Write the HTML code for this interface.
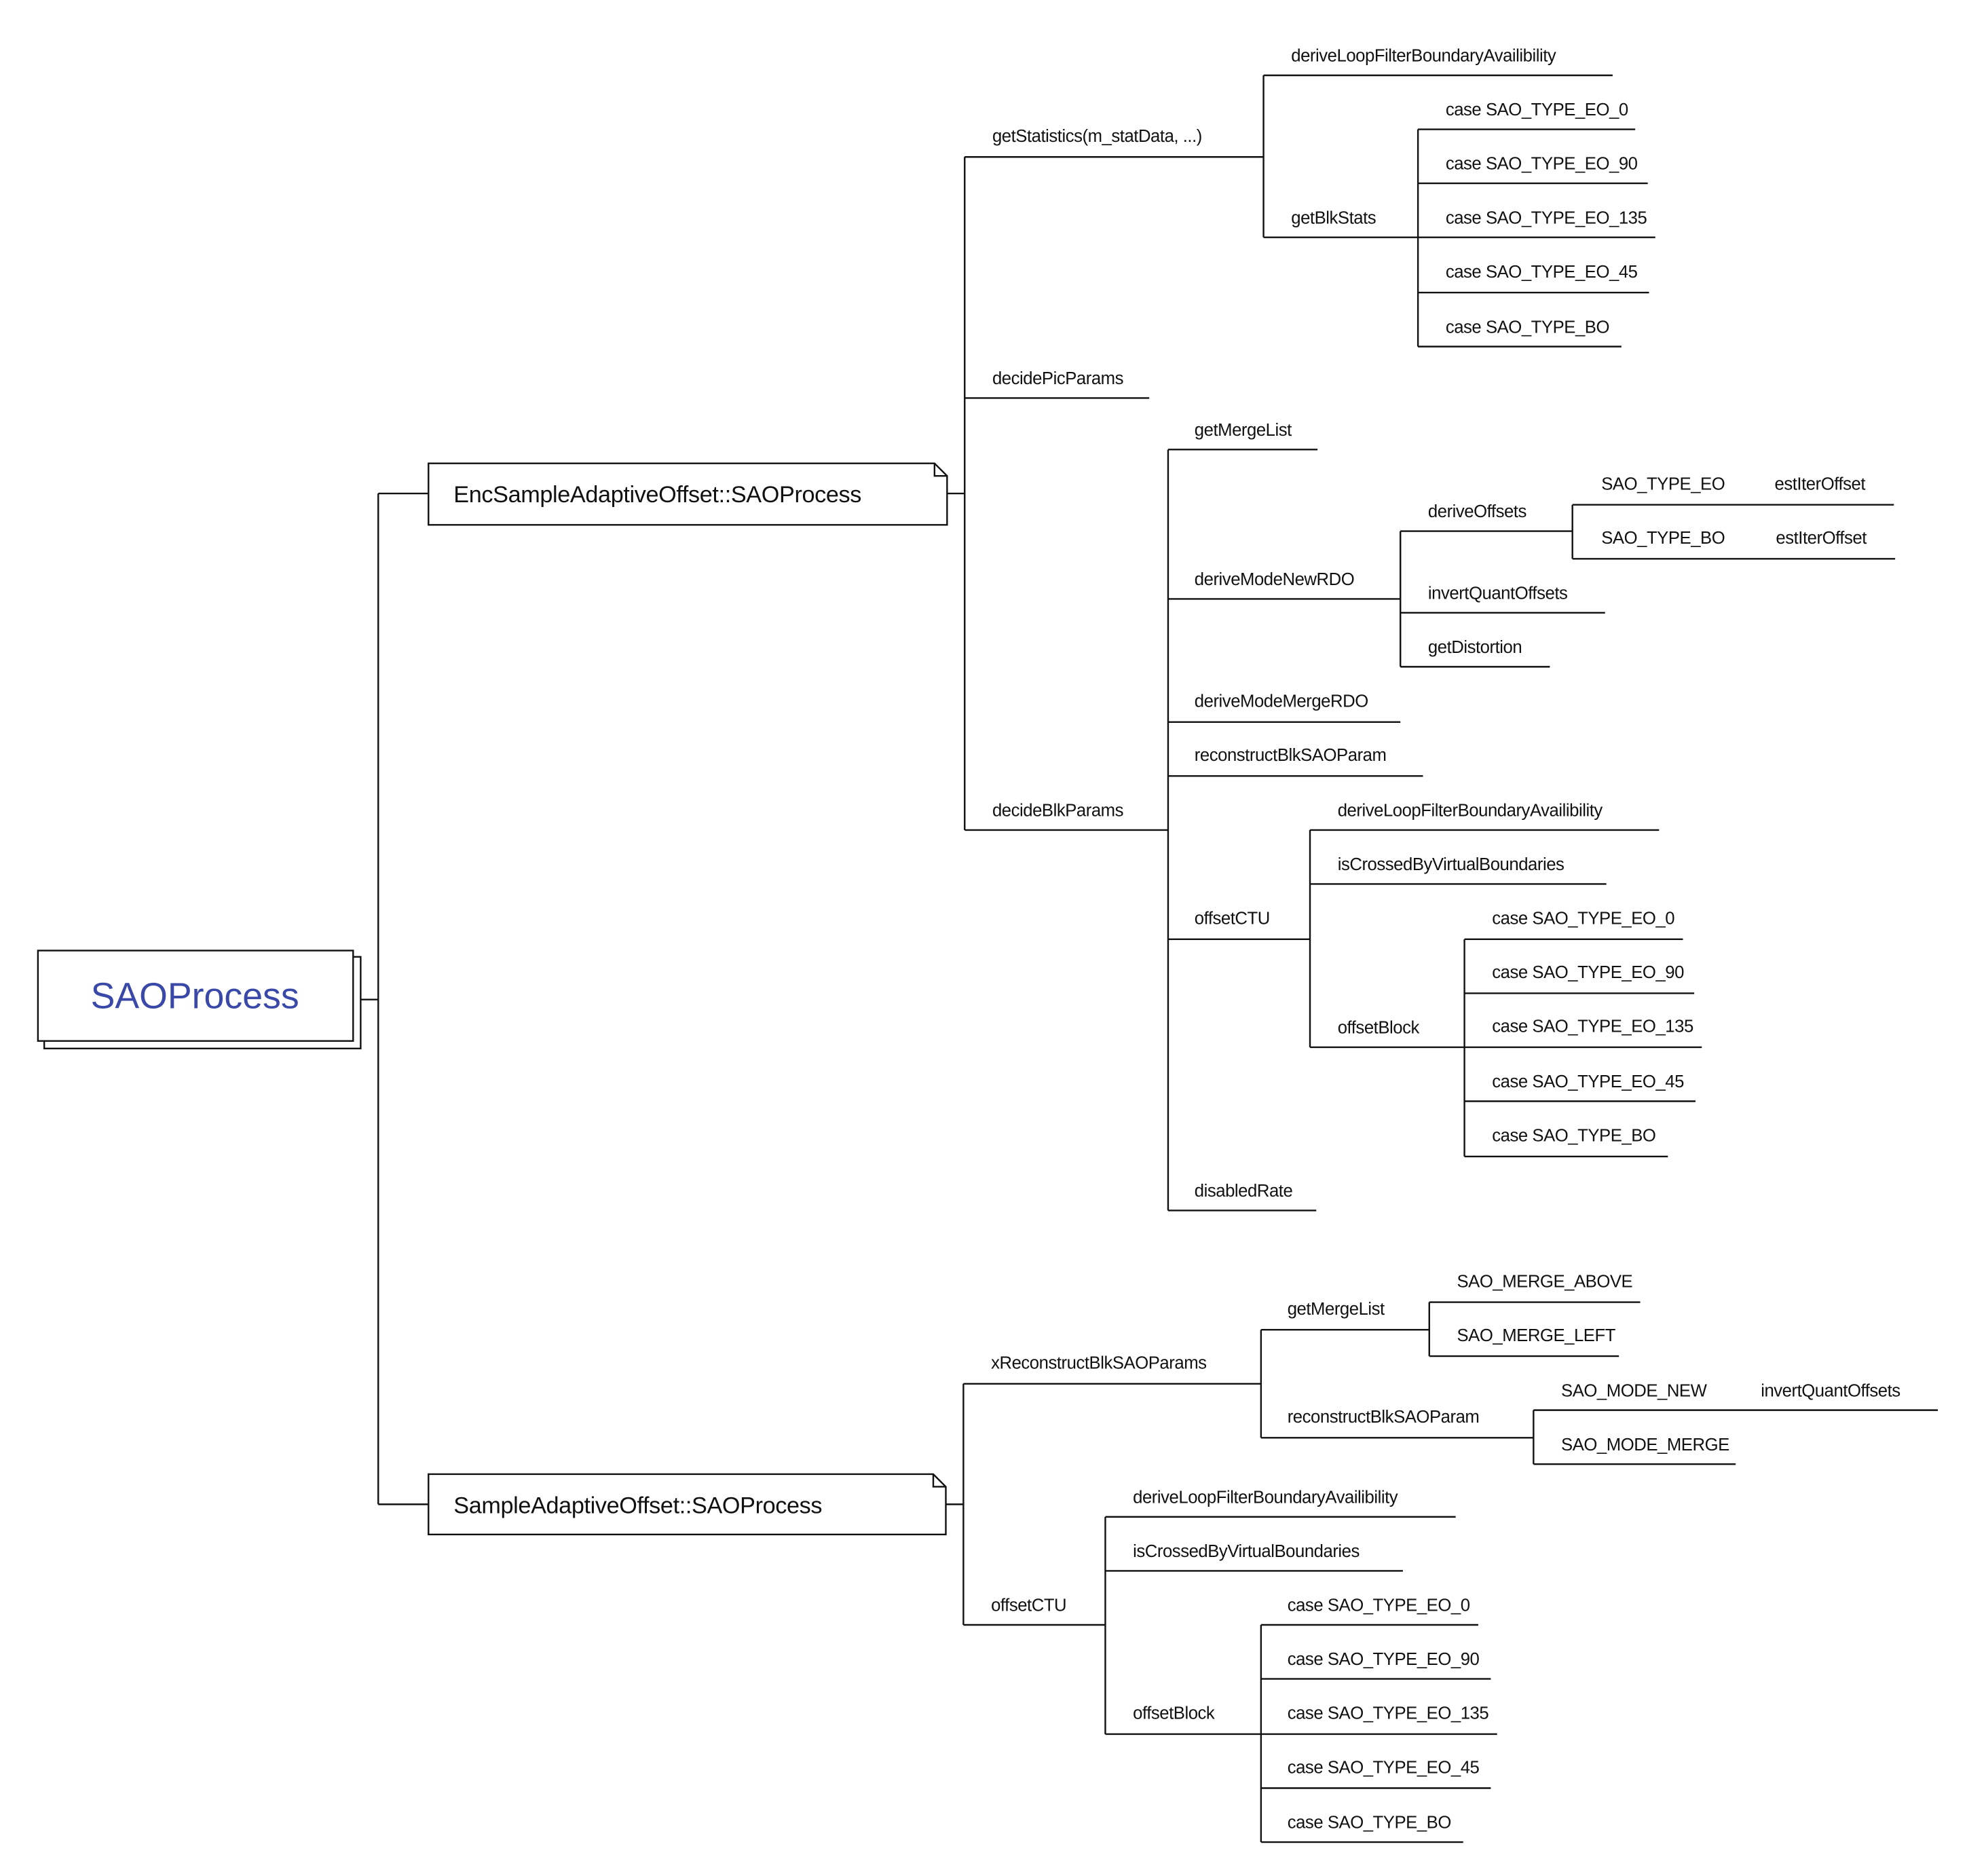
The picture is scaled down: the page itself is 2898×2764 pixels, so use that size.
<!DOCTYPE html>
<html><head><meta charset="utf-8"><style>
html,body{margin:0;padding:0;background:#fff;}
svg{display:block;}
text{font-family:"Liberation Sans","DejaVu Sans",sans-serif;font-size:13.9px;letter-spacing:-0.25px;fill:#111;}
</style></head><body>
<svg width="2898" height="2764" viewBox="0 0 1562 1494" xmlns="http://www.w3.org/2000/svg">
<g stroke="#111" stroke-width="1.3" fill="none">
<rect x="33" y="762" width="252" height="73" fill="#fff"/>
<rect x="28" y="757" width="251" height="72" fill="#fff"/>
<path d="M285 796H299M299 393V1198M299 393H339M299 1198H339"/>
<path d="M339 369H742L752 379V418H339Z" fill="#fff"/>
<path d="M742 369V379H752"/>
<path d="M339 1174H741L751 1184V1222H339Z" fill="#fff"/>
<path d="M741 1174V1184H751"/>
<path d="M752 393H766M766 125V661"/>
<path d="M766 125H1004M766 317H913M766 661H928"/>
<path d="M1004 60V189M1004 60H1282M1004 189H1127"/>
<path d="M1127 103V276M1127 103H1300M1127 146H1310M1127 189H1316M1127 233H1311M1127 276H1289"/>
<path d="M928 358V964M928 358H1047M928 477H1113M928 575H1113M928 618H1131M928 748H1041M928 964H1046"/>
<path d="M1113 423V531M1113 423H1250M1113 488H1276M1113 531H1232"/>
<path d="M1250 402V445M1250 402H1506M1250 445H1507"/>
<path d="M1041 661V834M1041 661H1319M1041 704H1277M1041 834H1164"/>
<path d="M1164 748V921M1164 748H1338M1164 791H1347M1164 834H1353M1164 877H1348M1164 921H1326"/>
<path d="M751 1198H765M765 1102V1294M765 1102H1002M765 1294H878"/>
<path d="M1002 1059V1145M1002 1059H1136M1002 1145H1219"/>
<path d="M1136 1037V1080M1136 1037H1304M1136 1080H1287"/>
<path d="M1219 1123V1166M1219 1123H1541M1219 1166H1380"/>
<path d="M878 1208V1381M878 1208H1157M878 1251H1115M878 1381H1002"/>
<path d="M1002 1294V1467M1002 1294H1175M1002 1337H1185M1002 1381H1190M1002 1424H1185M1002 1467H1163"/>
</g>
<text x="153" y="803" text-anchor="middle" style="font-size:29px;letter-spacing:0;fill:#3a49a8">SAOProcess</text>
<text x="359" y="400" style="font-size:18.5px;letter-spacing:-0.2px">EncSampleAdaptiveOffset::SAOProcess</text>
<text x="359" y="1205" style="font-size:18.5px;letter-spacing:-0.2px">SampleAdaptiveOffset::SAOProcess</text>

<text x="788" y="113">getStatistics(m_statData, ...)</text>
<text x="788" y="306">decidePicParams</text>
<text x="788" y="650">decideBlkParams</text>
<text x="1026" y="49">deriveLoopFilterBoundaryAvailibility</text>
<text x="1026" y="178">getBlkStats</text>
<text x="1149" y="92">case SAO_TYPE_EO_0</text>
<text x="1149" y="135">case SAO_TYPE_EO_90</text>
<text x="1149" y="178">case SAO_TYPE_EO_135</text>
<text x="1149" y="221">case SAO_TYPE_EO_45</text>
<text x="1149" y="265">case SAO_TYPE_BO</text>
<text x="949" y="347">getMergeList</text>
<text x="949" y="466">deriveModeNewRDO</text>
<text x="949" y="563">deriveModeMergeRDO</text>
<text x="949" y="606">reconstructBlkSAOParam</text>
<text x="949" y="736">offsetCTU</text>
<text x="949" y="953">disabledRate</text>
<text x="1135" y="412">deriveOffsets</text>
<text x="1135" y="477">invertQuantOffsets</text>
<text x="1135" y="520">getDistortion</text>
<text x="1273" y="390">SAO_TYPE_EO</text>
<text x="1411" y="390">estIterOffset</text>
<text x="1273" y="433">SAO_TYPE_BO</text>
<text x="1412" y="433">estIterOffset</text>
<text x="1063" y="650">deriveLoopFilterBoundaryAvailibility</text>
<text x="1063" y="693">isCrossedByVirtualBoundaries</text>
<text x="1063" y="823">offsetBlock</text>
<text x="1186" y="736">case SAO_TYPE_EO_0</text>
<text x="1186" y="779">case SAO_TYPE_EO_90</text>
<text x="1186" y="822">case SAO_TYPE_EO_135</text>
<text x="1186" y="866">case SAO_TYPE_EO_45</text>
<text x="1186" y="909">case SAO_TYPE_BO</text>

<text x="787" y="1090">xReconstructBlkSAOParams</text>
<text x="787" y="1283">offsetCTU</text>
<text x="1023" y="1047">getMergeList</text>
<text x="1023" y="1133">reconstructBlkSAOParam</text>
<text x="1158" y="1025">SAO_MERGE_ABOVE</text>
<text x="1158" y="1068">SAO_MERGE_LEFT</text>
<text x="1241" y="1112">SAO_MODE_NEW</text>
<text x="1400" y="1112">invertQuantOffsets</text>
<text x="1241" y="1155">SAO_MODE_MERGE</text>
<text x="900" y="1197">deriveLoopFilterBoundaryAvailibility</text>
<text x="900" y="1240">isCrossedByVirtualBoundaries</text>
<text x="900" y="1369">offsetBlock</text>
<text x="1023" y="1283">case SAO_TYPE_EO_0</text>
<text x="1023" y="1326">case SAO_TYPE_EO_90</text>
<text x="1023" y="1369">case SAO_TYPE_EO_135</text>
<text x="1023" y="1412">case SAO_TYPE_EO_45</text>
<text x="1023" y="1456">case SAO_TYPE_BO</text>
</svg>
</body></html>
